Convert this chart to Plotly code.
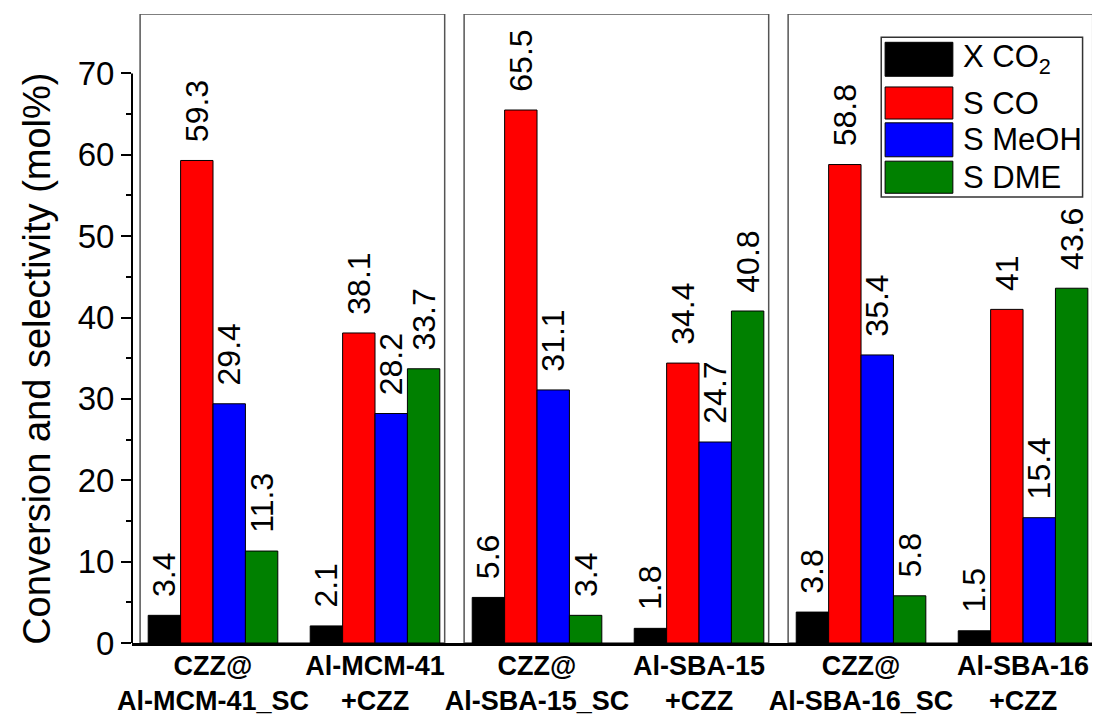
import plotly.graph_objects as go

categories = ["CZZ@<br>Al-MCM-41_SC", "Al-MCM-41<br>+CZZ", "CZZ@<br>Al-SBA-15_SC",
              "Al-SBA-15<br>+CZZ", "CZZ@<br>Al-SBA-16_SC", "Al-SBA-16<br>+CZZ"]
series_names = ["X CO<sub>2</sub>", "S CO", "S MeOH", "S DME"]
x_co2 = [3.4, 2.1, 5.6, 1.8, 3.8, 1.5]
s_co = [59.3, 38.1, 65.5, 34.4, 58.8, 41]
s_meoh = [29.4, 28.2, 31.1, 24.7, 35.4, 15.4]
s_dme = [11.3, 33.7, 3.4, 40.8, 5.8, 43.6]
y_ticks = [0, 10, 20, 30, 40, 50, 60, 70]
y_minor = [5, 15, 25, 35, 45, 55, 65]

series_values = [x_co2, s_co, s_meoh, s_dme]
colors = ["#000000", "#ff0000", "#0000ff", "#008000"]
FONT = "Liberation Sans, Arial, sans-serif"

fig = go.Figure()
xs = list(range(len(categories)))
for name, vals, col in zip(series_names, series_values, colors):
    fig.add_trace(go.Bar(
        x=xs, y=vals, name=name,
        marker=dict(color=col, line=dict(color="black", width=1)),
        text=[f"\u00a0\u2009{v:g}" for v in vals],
        textposition="outside", textangle=-90,
        textfont=dict(family=FONT, size=32, color="black"),
        constraintext="none", cliponaxis=False, showlegend=False,
    ))

# panel boxes (one per pair of categories)
for i in range(3):
    fig.add_shape(type="rect", xref="x", yref="y",
                  x0=2 * i - 0.45, x1=2 * i + 1.43, y0=0, y1=77.3,
                  line=dict(color="#555555", width=1.5), layer="below")

# y axis line only 0..70
fig.add_shape(type="line", xref="paper", yref="y", x0=0, x1=0, y0=0, y1=70,
              line=dict(color="black", width=2))

# custom legend
fig.add_shape(type="rect", xref="paper", yref="paper", x0=0.774, x1=0.982, y0=0.709, y1=0.963,
              line=dict(color="#333333", width=1.5), fillcolor="white")
leg_rects = [(0.955, 0.901), (0.884, 0.833), (0.827, 0.773), (0.766, 0.715)]
for (yt, yb), name, col in zip(leg_rects, series_names, colors):
    fig.add_shape(type="rect", xref="paper", yref="paper", x0=0.778, x1=0.848, y0=yb, y1=yt,
                  line=dict(color="black", width=1), fillcolor=col)
    fig.add_annotation(xref="paper", yref="paper", x=0.856, y=(yt + yb) / 2,
                       text=name, showarrow=False, xanchor="left", yanchor="middle",
                       font=dict(family=FONT, size=31, color="black"))

fig.add_annotation(xref="paper", yref="paper", x=-0.098, y=0.452,
                   text="Conversion and selectivity (mol%)", textangle=-90,
                   showarrow=False, xanchor="center", yanchor="middle",
                   font=dict(family=FONT, size=38, color="black"))

fig.update_layout(
    width=1092, height=707,
    margin=dict(l=124, r=0, t=6, b=72, autoexpand=False),
    paper_bgcolor="white", plot_bgcolor="white",
    barmode="group", bargap=0.2, bargroupgap=0,
    font=dict(family=FONT, color="black"),
    xaxis=dict(range=[-0.5, 5.475], tickmode="array", tickvals=xs, ticktext=categories,
               tickangle=0, automargin=False, ticklabelstandoff=-3,
               tickfont=dict(family=FONT, size=27, color="black", weight="bold"),
               showline=True, linecolor="black", linewidth=2.5, ticks="",
               showgrid=False, zeroline=False),
    yaxis=dict(range=[0, 77.3], tickmode="array", tickvals=y_ticks, automargin=False,
               tickfont=dict(family=FONT, size=33, color="black"),
               ticks="outside", ticklen=10, tickwidth=2, tickcolor="black",
               minor=dict(tickvals=y_minor, ticks="outside", ticklen=5, tickwidth=1.5, tickcolor="black"),
               showline=False, showgrid=False, zeroline=False),
)

fig.write_html("out.html")
